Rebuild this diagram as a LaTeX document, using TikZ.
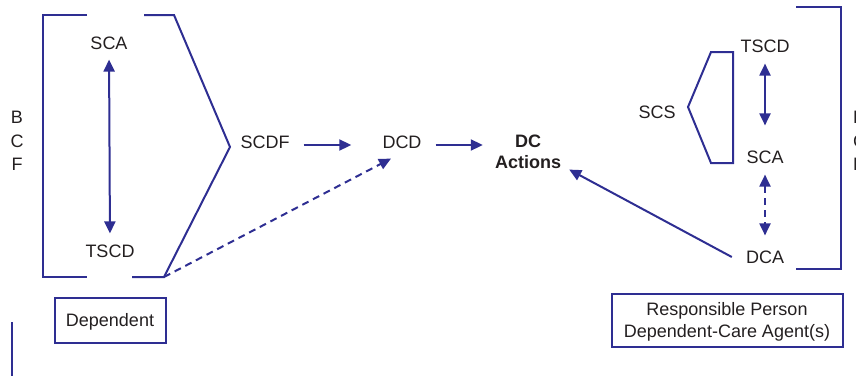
\documentclass[tikz,border=0pt]{standalone}
\usepackage{fontspec}
\setmainfont{Liberation Sans}
\usetikzlibrary{arrows.meta}
\definecolor{ink}{RGB}{46,46,146}
\definecolor{txt}{RGB}{35,31,32}
\begin{document}
\begin{tikzpicture}[x=1pt,y=-1pt,
  every node/.style={text=txt,font=\fontsize{18}{21}\selectfont,inner sep=0pt},
  frame/.style={draw=ink,line width=2pt,line join=miter},
  arr/.style={draw=ink,line width=2pt,-{Triangle[length=12pt,width=11pt]}},
  biarr/.style={draw=ink,line width=2pt,{Triangle[length=12pt,width=11pt]}-{Triangle[length=12pt,width=11pt]}},
  dashline/.style={dash pattern=on 7pt off 5pt},
  labelbox/.style={draw=ink,line width=2pt,inner sep=0pt,align=center}]
\useasboundingbox (0,0) rectangle (856,375);
\clip (0,0) rectangle (856,375);

% left bracket with its pointed right side
\coordinate (lb) at (164,277);
\draw[frame] (87,15) -- (43,15) -- (43,277) -- (87,277);
\draw[frame] (144,15) -- (174,15) -- (230,147) -- (lb) -- (132,277);

% left column
\node (sca1) at (109,43) {SCA};
\node (tscd1) at (110,251) {TSCD};
\draw[biarr,shorten <=10pt,shorten >=11pt] (sca1.south) -- (tscd1.north);

\node[align=center,font=\fontsize{18}{23.5}\selectfont] (bcf1) at (17,141) {B\\C\\F};

\node (scdf) at (265,142) {SCDF};
\node (dcd) at (402,142) {DCD};
\node[align=center,font=\bfseries\fontsize{18}{21}\selectfont] (dcact) at (528,151.5) {DC\\Actions};

\draw[arr,shorten <=14pt,shorten >=31pt] ([yshift=-3pt]scdf.east) -- ([yshift=-3pt]dcd.west);
\draw[arr,shorten <=14pt,shorten >=12pt] ([yshift=-3pt]dcd.east) -- ([yshift=6.5pt]dcact.west);
\draw[arr,dashline] (lb) -- ([xshift=-11pt,yshift=-10pt]dcd.south);

% right column
\node (tscd2) at (765,46) {TSCD};
\node (sca2) at (765,157) {SCA};
\node (dca) at (765,257) {DCA};
\node (scs) at (657,112) {SCS};
\draw[biarr,shorten <=11pt,shorten >=25pt] (tscd2.south) -- (sca2.north);
\draw[biarr,dashline,shorten <=11pt,shorten >=15pt] (sca2.south) -- (dca.north);
\draw[arr] ([xshift=-14pt]dca.west) -- ([xshift=8pt,yshift=-1pt]dcact.south east);

% small bracket around the right pair
\draw[frame] (733,52) -- (711,52) -- (688,107) -- (711,163) -- (733,163) -- cycle;

% right bracket
\draw[frame] (796,7) -- (841,7) -- (841,269) -- (796,269);
\node[align=left,anchor=west,font=\fontsize{18}{23.5}\selectfont] (bcf2) at (853,141) {B\\C\\F};

% boxes below
\node[labelbox,minimum width=111pt,minimum height=45pt,text depth=0pt,text height=13pt] (dep) at (110,320) {Dependent};
\node[labelbox,minimum width=231pt,minimum height=53pt,font=\fontsize{18}{22}\selectfont] (resp) at (727,320) {};
\node[align=center,font=\fontsize{18}{22}\selectfont] (resptext) at (727,322) {Responsible Person\\Dependent-Care Agent(s)};

\draw[frame] (12,322) -- (12,380);
\end{tikzpicture}
\end{document}
